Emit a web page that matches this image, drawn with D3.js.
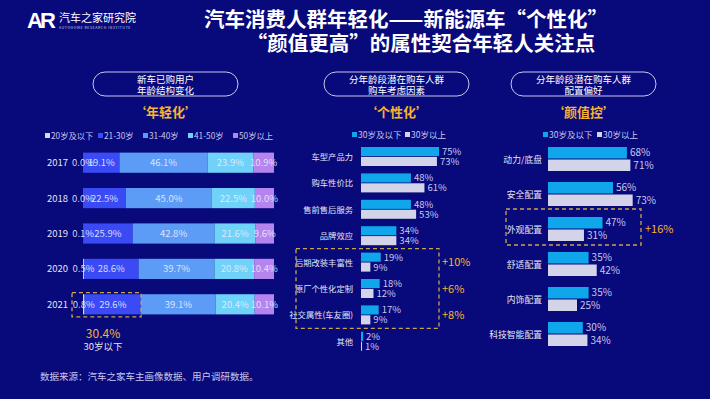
<!DOCTYPE html>
<html><head><meta charset="utf-8">
<script src="https://cdn.jsdelivr.net/npm/d3@7"></script>
<style>
html,body{margin:0;padding:0;background:#08097a;}
svg{display:block;font-family:"Noto Sans CJK SC","Noto Sans",sans-serif;}
</style></head>
<body><svg id="c" width="710" height="399"></svg>
<script>
// ---- data ----
const years = ['2017','2018','2019','2020','2021'];
const ageGroups = ['20岁及以下','21-30岁','31-40岁','41-50岁','50岁以上'];
const age20 = [0.0,0.0,0.1,0.5,0.8];
const age21_30 = [19.1,22.5,25.9,28.6,29.6];
const age31_40 = [46.1,45.0,42.8,39.7,39.1];
const age41_50 = [23.9,22.5,21.6,20.8,20.4];
const age50 = [10.9,10.0,9.6,10.4,10.1];

const seriesNames = ['30岁及以下','30岁以上'];
const factors = ['车型产品力','购车性价比','售前售后服务','品牌效应','后期改装丰富性','原厂个性化定制','社交属性(车友圈)','其他'];
const factorUnder30 = [75,48,48,34,19,18,17,2];
const factorOver30 = [73,61,53,34,9,12,9,1];
const factorDiffs = [null,null,null,null,'+10%','+6%','+8%',null];

const configs = ['动力/底盘','安全配置','外观配置','舒适配置','内饰配置','科技智能配置'];
const configUnder30 = [68,56,47,35,35,30];
const configOver30 = [71,73,31,42,25,34];
const configDiffs = [null,null,'+16%',null,null,null];

// ---- styles ----
const BG = '#08097a';
const ageColors = ['#d6d6ee','#3a4af5','#5d9cf6','#70d2f8','#b684ef'];
const C_BLUE = '#0fa6ec', C_GRAY = '#d3d3ea';
const ORANGE = '#f5b532', DASH = '#c9a54a';
const TXT = '#e4e4f6', TXT2 = '#c8c8ee';

const svg = d3.select('#c');
svg.append('rect').attr('width',710).attr('height',399).attr('fill',BG);

// logo
const logo = svg.append('g');
logo.append('text').attr('x',27).attr('y',28).attr('fill','#fff').attr('font-size',22)
  .attr('font-weight',900).attr('font-family','Liberation Sans, Arial').attr('letter-spacing',-3).text('AR');
logo.append('text').attr('x',59).attr('y',22).attr('fill','#fff').attr('font-size',11).text('汽车之家研究院');
logo.append('text').attr('x',59).attr('y',29).attr('fill','#cfd0f0').attr('font-size',3.5).attr('letter-spacing',0.6).text('AUTOHOME RESEARCH INSTITUTE');

// title
svg.append('text').attr('x',406).attr('y',27).attr('text-anchor','middle').attr('fill','#fff')
  .attr('font-size',20.5).attr('font-weight',700).text('汽车消费人群年轻化——新能源车“个性化”');
svg.append('text').attr('x',421).attr('y',51).attr('text-anchor','middle').attr('fill','#fff')
  .attr('font-size',20.5).attr('font-weight',700).text('“颜值更高”的属性契合年轻人关注点');

// footer
svg.append('text').attr('x',40).attr('y',380).attr('fill',TXT2).attr('font-size',9.5)
  .text('数据来源：汽车之家车主画像数据、用户调研数据。');

function panelHeader(x0,x1,lines,tag){
  svg.append('rect').attr('x',x0).attr('y',72).attr('width',x1-x0).attr('height',24).attr('rx',12)
    .attr('fill','none').attr('stroke','#c8c8ee').attr('stroke-width',1);
  const cx=(x0+x1)/2;
  svg.append('text').attr('x',cx).attr('y',83).attr('text-anchor','middle').attr('fill','#fff').attr('font-size',9.5).text(lines[0]);
  svg.append('text').attr('x',cx).attr('y',94).attr('text-anchor','middle').attr('fill','#fff').attr('font-size',9.5).text(lines[1]);
  svg.append('text').attr('x',cx).attr('y',117).attr('text-anchor','middle').attr('fill',ORANGE).attr('font-size',13).attr('font-weight',700).text('‘'+tag+'’');
}
panelHeader(93,238,['新车已购用户','年龄结构变化'],'年轻化');
panelHeader(324,469,['分年龄段潜在购车人群','购车考虑因素'],'个性化');
panelHeader(511,656,['分年龄段潜在购车人群','配置偏好'],'颜值控');

// ---- left stacked chart ----
const ageSeries = [age20,age21_30,age31_40,age41_50,age50];
const rows = years.map((y,i)=>{const o={year:y}; ageGroups.forEach((g,k)=>o[g]=ageSeries[k][i]); return o;});
const stack = d3.stack().keys(ageGroups)(rows);
const xL = d3.scaleLinear().domain([0,100]).range([83,274]);
const yL = d3.scaleBand().domain(years).range([145,322]).paddingInner(0.43).paddingOuter(0.215);

// legend
const legX = [45,98,143,188,233];
ageGroups.forEach((g,k)=>{
  const lg = svg.append('g').attr('transform',`translate(${legX[k]},137)`);
  lg.append('rect').attr('x',0).attr('y',-4).attr('width',5).attr('height',5).attr('fill',ageColors[k]);
  lg.append('text').attr('x',6).attr('y',1.5).attr('fill',TXT2).attr('font-size',8.3).text(g);
});

const gL = svg.append('g');
stack.forEach((s,k)=>{
  gL.selectAll(null).data(s).enter().append('rect')
    .attr('x',d=>xL(d[0])).attr('y',d=>yL(d.data.year))
    .attr('width',d=>xL(d[1])-xL(d[0])).attr('height',yL.bandwidth())
    .attr('fill',ageColors[k]);
});
stack.forEach((s,k)=>{
  gL.selectAll(null).data(s).enter().append('text')
    .attr('x',d=>(xL(d[0])+xL(d[1]))/2).attr('y',d=>yL(d.data.year)+yL.bandwidth()/2+3.5)
    .attr('text-anchor','middle').attr('fill','#e8ecff').attr('fill-opacity',0.9).attr('font-size',9.5)
    .text(d=>(d[1]-d[0]).toFixed(1)+'%');
});
gL.selectAll(null).data(years).enter().append('text')
  .attr('x',68).attr('y',d=>yL(d)+yL.bandwidth()/2+3.5).attr('text-anchor','end')
  .attr('fill',TXT).attr('font-size',9.5).text(d=>d);
// highlight 2021 under 30
const last = years.length-1;
const u30end = xL(age20[last]+age21_30[last]);
gL.append('rect').attr('x',72).attr('y',yL('2021')-1.5).attr('width',u30end-72).attr('height',yL.bandwidth()+4)
  .attr('fill','none').attr('stroke',DASH).attr('stroke-width',1.3).attr('stroke-dasharray','4,3');
gL.append('text').attr('x',103).attr('y',338).attr('text-anchor','middle').attr('fill',ORANGE).attr('font-size',12)
  .text((age20[last]+age21_30[last]).toFixed(1)+'%');
gL.append('text').attr('x',103).attr('y',350).attr('text-anchor','middle').attr('fill',TXT).attr('font-size',9.5).text('30岁以下');

// ---- grouped horizontal bars ----
function groupChart(opts){
  const {cats,u,o,x,y,labelX,legXs,valSize,labSize} = opts;
  const sub = d3.scaleBand().domain(seriesNames).range([0,y.bandwidth()]).paddingInner(0.08);
  seriesNames.forEach((n,k)=>{
    const lg = svg.append('g').attr('transform',`translate(${legXs[k]},136)`);
    lg.append('rect').attr('x',0).attr('y',-4).attr('width',5).attr('height',5).attr('fill',k?C_GRAY:C_BLUE);
    lg.append('text').attr('x',6).attr('y',1.5).attr('fill',TXT2).attr('font-size',8.5).text(n);
  });
  const g = svg.append('g');
  [u,o].forEach((vals,k)=>{
    const name = seriesNames[k];
    g.selectAll(null).data(vals).enter().append('rect')
      .attr('x',x(0)).attr('y',(d,i)=>y(cats[i])+sub(name))
      .attr('width',d=>x(d)-x(0)).attr('height',sub.bandwidth())
      .attr('fill',k?C_GRAY:C_BLUE);
    g.selectAll(null).data(vals).enter().append('text')
      .attr('x',d=>x(d)+3).attr('y',(d,i)=>y(cats[i])+sub(name)+sub.bandwidth()/2+3.5)
      .attr('fill',TXT2).attr('font-size',valSize).text(d=>d+'%');
  });
  g.selectAll(null).data(cats).enter().append('text')
    .attr('x',labelX).attr('y',d=>y(d)+y.bandwidth()/2+3.5).attr('text-anchor','end')
    .attr('fill',TXT).attr('font-size',labSize).text(d=>d);
  return g;
}

const xM = d3.scaleLinear().domain([0,100]).range([361,465]);
const yM = d3.scaleBand().domain(factors).range([143.3,354.5]).paddingInner(0.28).paddingOuter(0.14);
const gM = groupChart({cats:factors,u:factorUnder30,o:factorOver30,x:xM,y:yM,labelX:353,legXs:[352,405],valSize:9.5,labSize:8.3});
// highlight box
const hiM = factors.filter((f,i)=>factorDiffs[i]);
gM.append('rect').attr('x',296).attr('y',yM(hiM[0])-4).attr('width',143)
  .attr('height',yM(hiM[hiM.length-1])+yM.bandwidth()+4-(yM(hiM[0])-4))
  .attr('fill','none').attr('stroke',DASH).attr('stroke-width',1.3).attr('stroke-dasharray','4,3');
factors.forEach((f,i)=>{ if(factorDiffs[i]) gM.append('text').attr('x',442).attr('y',yM(f)+yM.bandwidth()/2+4)
  .attr('fill',ORANGE).attr('font-size',11).text(factorDiffs[i]); });

const xR = d3.scaleLinear().domain([0,100]).range([548,664]);
const yR = d3.scaleBand().domain(configs).range([141.5,351.5]).paddingInner(0.314).paddingOuter(0.157);
const gR = groupChart({cats:configs,u:configUnder30,o:configOver30,x:xR,y:yR,labelX:542,legXs:[543,597],valSize:10,labSize:8.8});
configs.forEach((c,i)=>{ if(configDiffs[i]){
  gR.append('rect').attr('x',506).attr('y',yR(c)-8).attr('width',135).attr('height',yR.bandwidth()+12)
    .attr('fill','none').attr('stroke',DASH).attr('stroke-width',1.3).attr('stroke-dasharray','4,3');
  gR.append('text').attr('x',645).attr('y',yR(c)+yR.bandwidth()/2+4).attr('fill',ORANGE).attr('font-size',11).text(configDiffs[i]);
}});
</script></body></html>
